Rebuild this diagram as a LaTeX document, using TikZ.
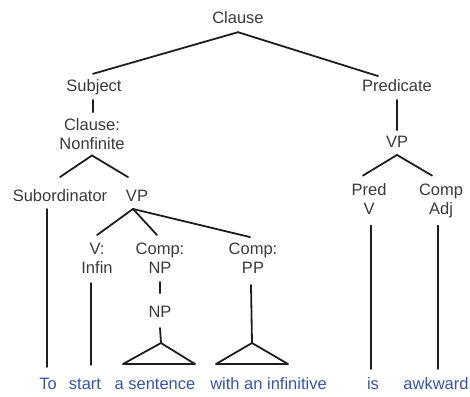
\documentclass[tikz,border=0pt]{standalone}
\usepackage{fontspec}
\setmainfont{Liberation Sans}
\definecolor{lbl}{HTML}{3A3A3A}
\definecolor{wrd}{HTML}{3555A8}
\definecolor{ln}{HTML}{1E1E1E}
\begin{document}
\begin{tikzpicture}[x=1bp,y=-1bp,
  lab/.style={inner sep=0pt, text=lbl, align=center, text height=12bp, text depth=3.5bp,
    font=\fontsize{16.5bp}{19bp}\selectfont},
  labtwo/.style={lab, text height=31bp},
  word/.style={lab, text=wrd},
  edge/.style={draw=ln, line width=1.8bp, line cap=round, line join=round}]
\useasboundingbox (0,0) rectangle (470,396);
% labels
\node[lab] (clause) at (238,19) {Clause};
\node[lab] (subj) at (94,87) {Subject};
\node[lab] (pred) at (397,87) {Predicate};
\node[labtwo] (cnf) at (92,135.5) {Clause:\\Nonfinite};
\node[lab] (vpR) at (397,143) {VP};
\node[lab] (sub) at (60,197) {Subordinator};
\node[lab] (vpL) at (137,197) {VP};
\node[labtwo] (predV) at (369,201) {Pred\\V};
\node[labtwo] (compAdj) at (441,201) {Comp\\Adj};
\node[labtwo] (vinf) at (97,259.5) {V:\\Infin};
\node[labtwo] (compNP) at (160,259.5) {Comp:\\NP};
\node[labtwo] (compPP) at (253,259.5) {Comp:\\PP};
\node[lab] (np2) at (160,313) {NP};
% words
\node[word] (w1) at (48,385) {To};
\node[word] (w2) at (85,385) {start};
\node[word] (w3) at (155,385) {a sentence};
\node[word] (w4) at (268.5,385) {with an infinitive};
\node[word] (w5) at (373,385) {is};
\node[word] (w6) at (436,385) {awkward};
% triangle apexes
\coordinate (triA) at (161,343);
\coordinate (triB) at (252,343);
% connectors
\draw[edge] ([yshift=-5.25bp]clause.south) -- ([xshift=-1bp,yshift=5.25bp]subj.north);
\draw[edge] ([yshift=-5.25bp]clause.south) -- ([xshift=-19bp,yshift=3bp]pred.north);
\draw[edge] ([xshift=-1bp,yshift=-5bp]subj.south) -- ([xshift=1bp,yshift=6bp]cnf.north);
\draw[edge] ([yshift=-5bp]pred.south) -- ([yshift=5bp]vpR.north);
\draw[edge] ([yshift=-2.5bp]cnf.south) -- ([yshift=12bp]sub.north);
\draw[edge] ([yshift=-2.5bp]cnf.south) -- ([xshift=-9bp,yshift=12bp]vpL.north);
\draw[edge] ([yshift=-4bp]vpR.south) -- ([xshift=-6bp,yshift=8bp]predV.north);
\draw[edge] ([yshift=-4bp]vpR.south) -- ([xshift=-9bp,yshift=8bp]compAdj.north);
\draw[edge] ([xshift=-4bp,yshift=-4bp]vpL.south) -- ([yshift=7bp]vinf.north);
\draw[edge] ([xshift=-4bp,yshift=-4bp]vpL.south) -- ([xshift=-3bp,yshift=7bp]compNP.north);
\draw[edge] ([xshift=-4bp,yshift=-4bp]vpL.south) -- ([xshift=-3bp,yshift=5bp]compPP.north);
\draw[edge] ([xshift=-13bp,yshift=-4bp]sub.south) -- ([xshift=-1bp,yshift=10bp]w1.north);
\draw[edge] ([xshift=-6bp,yshift=-6bp]vinf.south) -- ([xshift=6bp,yshift=12bp]w2.north);
\draw[edge] ([yshift=-5bp]compNP.south) -- ([yshift=12bp]np2.north);
\draw[edge] ([yshift=-7bp]np2.south) -- (triA);
\draw[edge] (triA) -- ++(-38,21) -- ++(72,0) -- cycle;
\draw[edge] ([xshift=-2bp,yshift=-8bp]compPP.south) -- (triB);
\draw[edge] (triB) -- ++(-36,21) -- ++(72,0) -- cycle;
\draw[edge] ([xshift=2bp,yshift=-7bp]predV.south) -- ([xshift=-2bp,yshift=8bp]w5.north);
\draw[edge] ([xshift=-3bp,yshift=-7bp]compAdj.south) -- ([xshift=2bp,yshift=8bp]w6.north);
\end{tikzpicture}
\end{document}
